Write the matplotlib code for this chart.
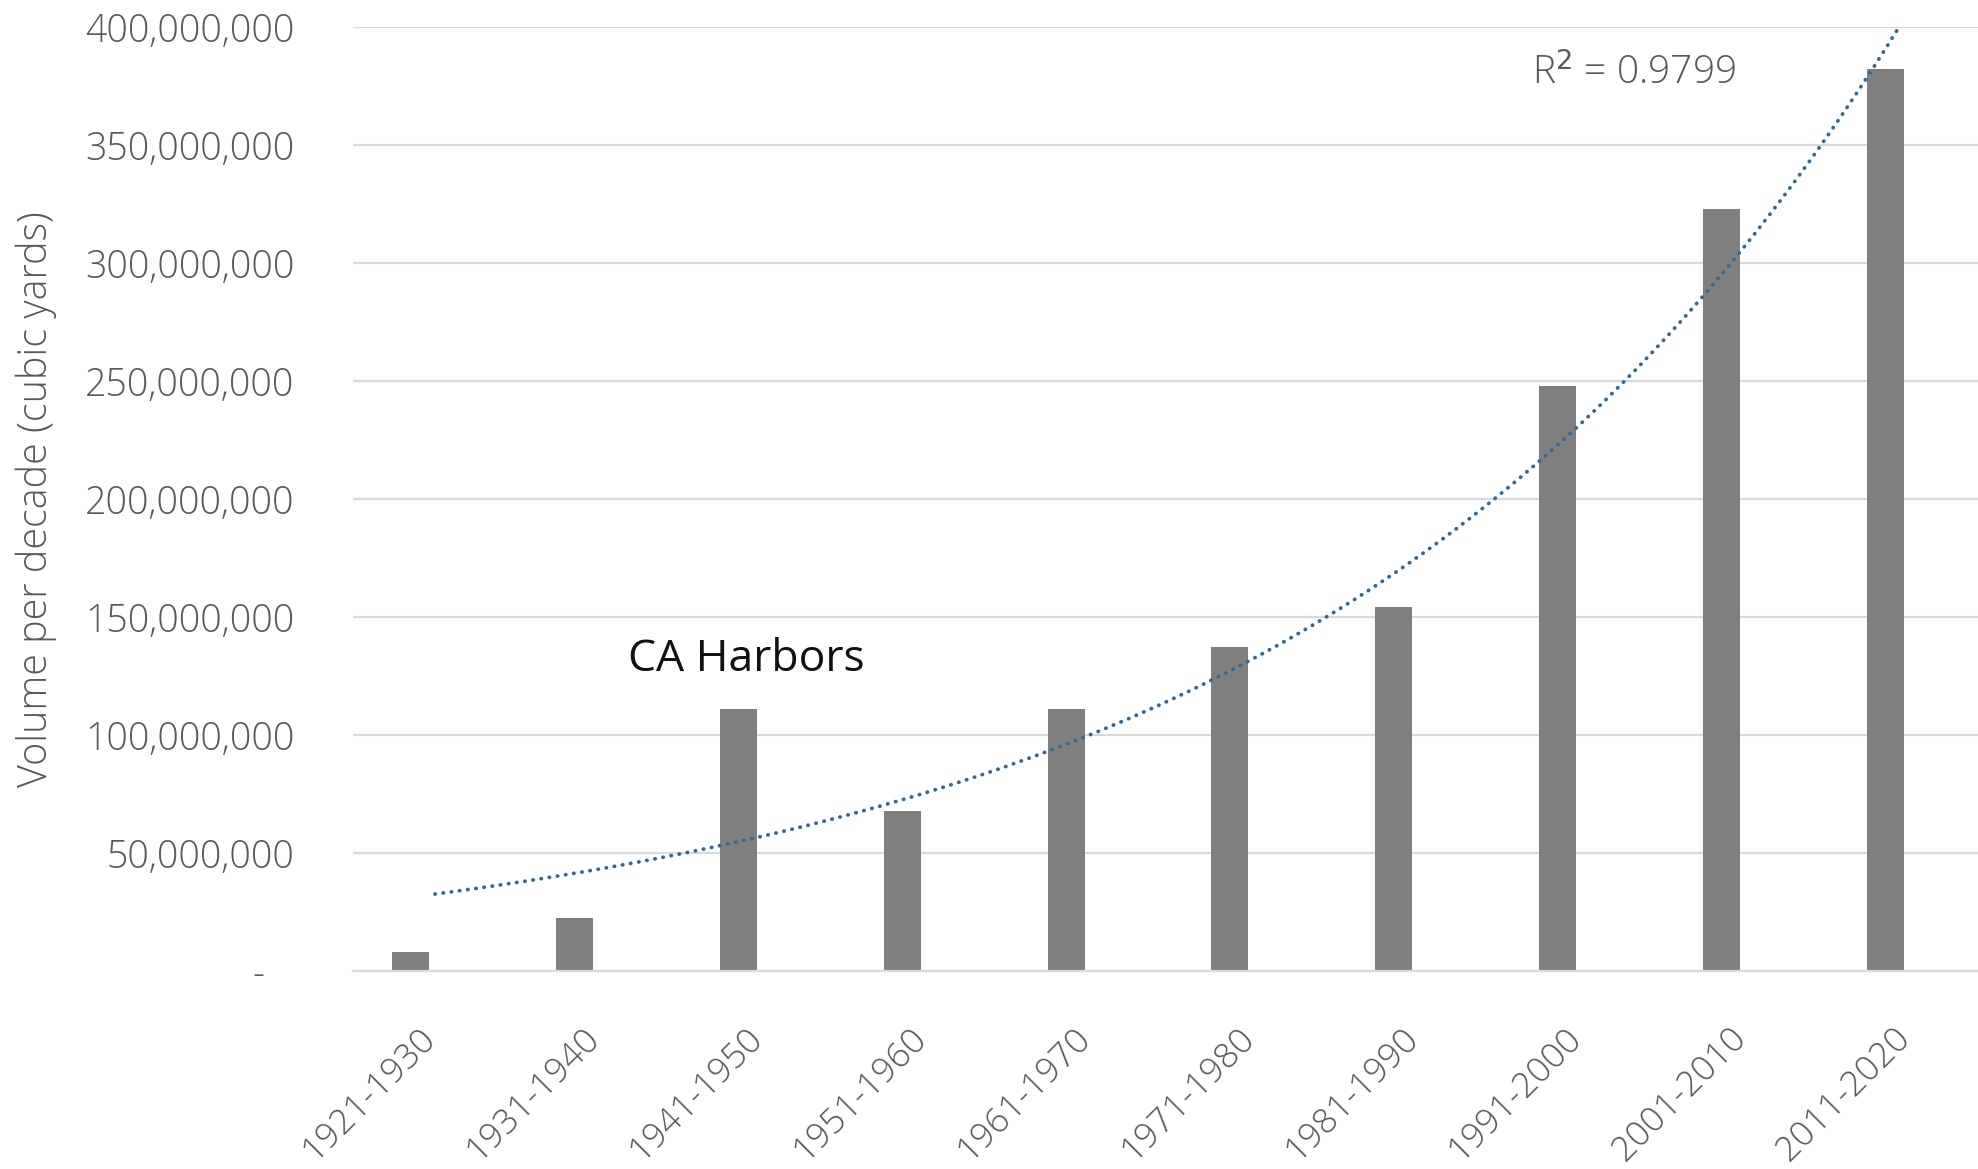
import matplotlib.pyplot as plt
import numpy as np
from matplotlib.ticker import FuncFormatter
from matplotlib.transforms import ScaledTranslation

DECADES = ["1921-1930", "1931-1940", "1941-1950", "1951-1960", "1961-1970",
           "1971-1980", "1981-1990", "1991-2000", "2001-2010", "2011-2020"]
VOLUMES = [8.0e6, 22.3e6, 111.0e6, 67.8e6, 111.0e6,
           137.3e6, 154.3e6, 247.9e6, 322.7e6, 382.0e6]
# exponential trendline y = a * exp(b * i)
TREND_A = 32.6e6
TREND_B = 0.2805
R2_TEXT = "R$^2$ = 0.9799"
Y_TICKS = [0, 50e6, 100e6, 150e6, 200e6, 250e6, 300e6, 350e6, 400e6]

GREY_TEXT = "#595959"
FONT = ["Open Sans", "DejaVu Sans"]


def fmt(v, _pos):
    if v == 0:
        return "-   "
    return f"{v:,.0f}"


def main() -> None:
    plt.rcParams["font.family"] = FONT
    fig = plt.figure(figsize=(19.78, 11.69), dpi=100)
    ax = fig.add_axes([353 / 1978, 1 - 971 / 1169, 1 - 353 / 1978, (971 - 27) / 1169])

    x = np.arange(len(DECADES))
    ax.bar(x - 0.147, VOLUMES, width=0.226, color="#7f7f7f", zorder=2)

    tx = np.linspace(0, len(DECADES) - 1, 200)
    ax.plot(tx, TREND_A * np.exp(TREND_B * tx), color="#336892", linewidth=2.7,
            dashes=(0.1, 2.1), dash_capstyle="round", zorder=3)

    ax.set_xlim(-0.5, 9.42)
    ax.set_ylim(0, 400e6)
    ax.set_yticks(Y_TICKS)
    ax.yaxis.set_major_formatter(FuncFormatter(fmt))
    ax.grid(axis="y", color="#d9d9d9", linewidth=1.6, zorder=0)
    for side in ["top", "right", "left"]:
        ax.spines[side].set_visible(False)
    ax.spines["bottom"].set_color("#d9d9d9")
    ax.spines["bottom"].set_linewidth(1.6)
    ax.tick_params(axis="y", length=0, pad=42, labelsize=27, labelcolor=GREY_TEXT)
    ax.tick_params(axis="x", length=0, pad=36, labelsize=25.5, labelcolor=GREY_TEXT)
    for lab in ax.get_yticklabels():
        lab.set_fontweight("light")

    ax.set_xticks(x)
    ax.set_xticklabels(DECADES, rotation=45, ha="right", va="top",
                       rotation_mode="anchor", fontweight="light")
    shift = ScaledTranslation(-0.17, 0, fig.dpi_scale_trans)
    for lab in ax.get_xticklabels():
        lab.set_transform(lab.get_transform() + shift)

    ax.set_ylabel("Volume per decade (cubic yards)", fontsize=28.5,
                  color=GREY_TEXT, fontweight="light")
    ax.yaxis.set_label_coords(-0.182, 0.5)

    ax.text(6.70, 376e6, R2_TEXT, fontsize=28, color=GREY_TEXT,
            fontweight="light", va="baseline", ha="left")
    ax.text(1.18, 127e6, "CA Harbors", fontsize=32, color="#111111",
            va="baseline", ha="left")

    fig.savefig("out.png", dpi=100)
    plt.close(fig)


if __name__ == "__main__":
    main()
